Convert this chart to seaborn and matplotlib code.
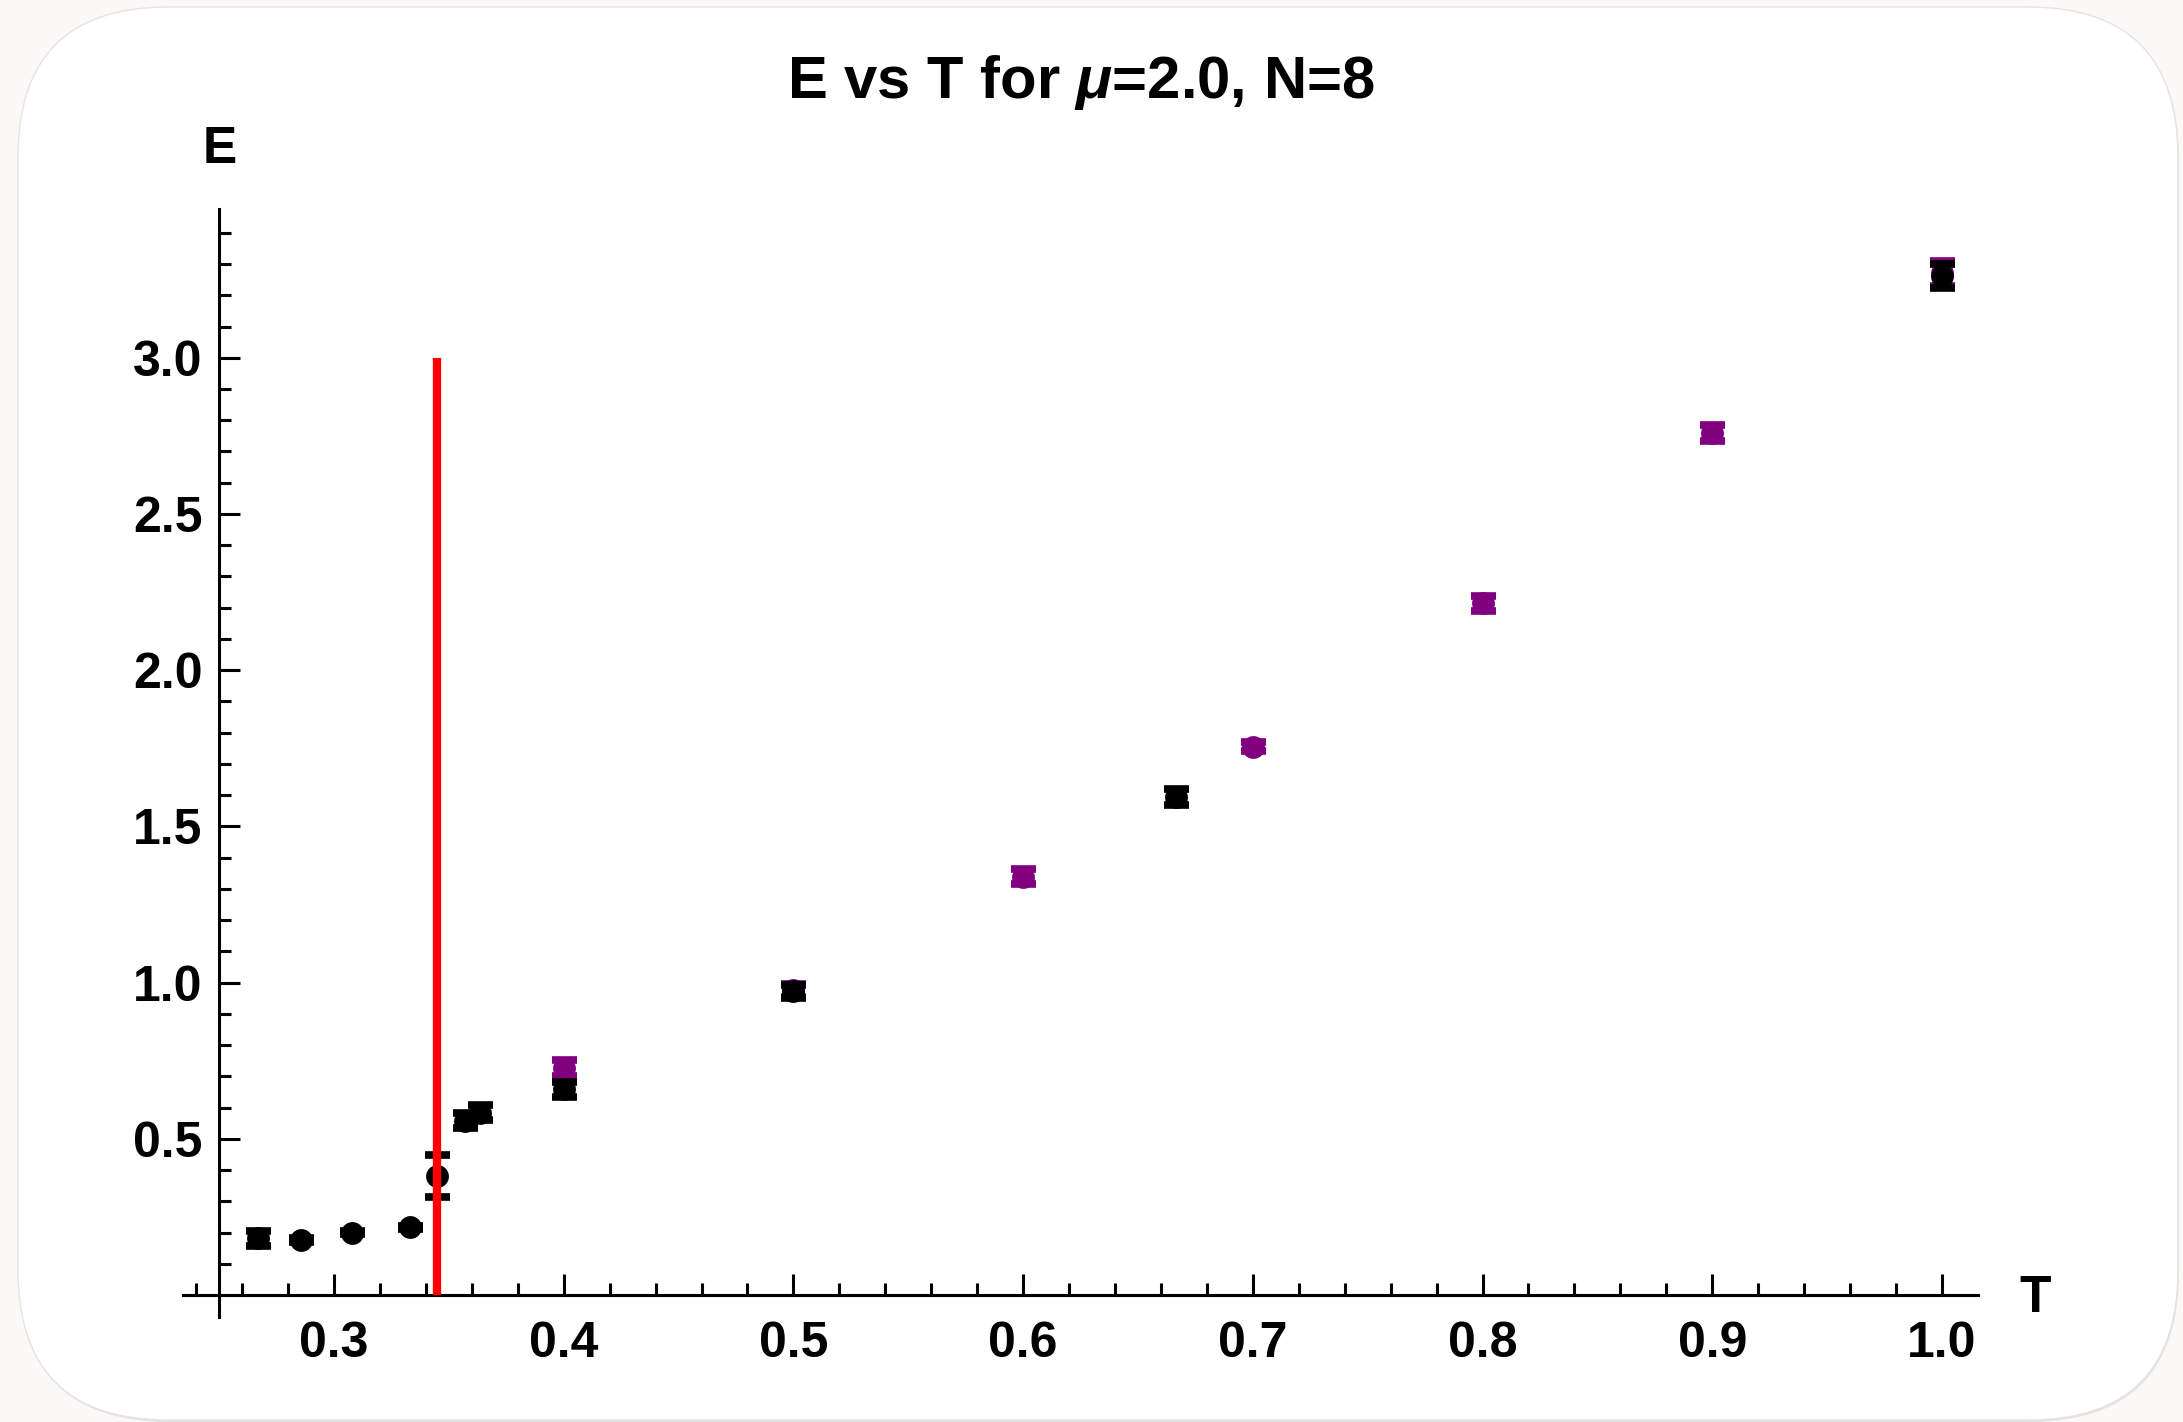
import matplotlib
matplotlib.use("Agg")
import matplotlib.pyplot as plt
from matplotlib.patches import FancyBboxPatch
from matplotlib.ticker import FixedLocator
import numpy as np
import pandas as pd
import seaborn as sns

# black series (first run)
black_T = [0.2667, 0.2857, 0.3077, 0.3333, 0.3448, 0.3571, 0.3636, 0.4, 0.5, 0.6667, 1.0]
black_E = [0.181, 0.176, 0.199, 0.217, 0.381, 0.558, 0.583, 0.658, 0.972, 1.593, 3.262]
black_err = [0.024, 0.005, 0.005, 0.005, 0.067, 0.024, 0.024, 0.023, 0.02, 0.026, 0.039]

# purple series (second run)
purple_T = [0.4, 0.5, 0.6, 0.7, 0.8, 0.9, 1.0]
purple_E = [0.726, 0.975, 1.339, 1.755, 2.214, 2.760, 3.27]
purple_err = [0.025, 0.02, 0.024, 0.015, 0.024, 0.025, 0.04]

# red marker line
transition_T = 0.3448
transition_E = [0.0, 3.0]

x_ticks = [0.3, 0.4, 0.5, 0.6, 0.7, 0.8, 0.9, 1.0]
x_labels = ["0.3", "0.4", "0.5", "0.6", "0.7", "0.8", "0.9", "1.0"]
y_ticks = [0.5, 1.0, 1.5, 2.0, 2.5, 3.0]
y_labels = ["0.5", "1.0", "1.5", "2.0", "2.5", "3.0"]

black_df = pd.DataFrame({"T": black_T, "E": black_E, "err": black_err})
purple_df = pd.DataFrame({"T": purple_T, "E": purple_E, "err": purple_err})

sns.set_theme(style="white")
plt.rcParams["font.family"] = ["Liberation Sans Narrow", "Liberation Sans", "DejaVu Sans"]
plt.rcParams["font.weight"] = "bold"
plt.rcParams["text.color"] = "black"
plt.rcParams["mathtext.fontset"] = "custom"
plt.rcParams["mathtext.it"] = "Liberation Sans:italic:bold"
plt.rcParams["mathtext.rm"] = "Liberation Sans:bold"

fig = plt.figure(figsize=(21.83, 14.22), dpi=100, facecolor="#fbf9f5")

# rounded white card with a soft shadow
shadow = FancyBboxPatch((0.19, 0.0), 21.6, 14.13, boxstyle="round,pad=0,rounding_size=1.5",
                        transform=fig.dpi_scale_trans, facecolor="#cfcfcf", edgecolor="none",
                        alpha=0.5, zorder=-2)
card = FancyBboxPatch((0.18, 0.02), 21.6, 14.13, boxstyle="round,pad=0,rounding_size=1.5",
                      transform=fig.dpi_scale_trans, facecolor="white", edgecolor="#e4e4e4",
                      linewidth=1, zorder=-1)
fig.add_artist(shadow)
fig.add_artist(card)

ax = fig.add_axes([0.08397, 0.0739, 0.8219, 0.7791])
ax.set_facecolor("none")

purple = "#800080"
ax.errorbar(purple_df["T"], purple_df["E"], yerr=purple_df["err"], fmt="none", ecolor=purple,
            elinewidth=2, capsize=9, capthick=5.5, zorder=2)
sns.scatterplot(data=purple_df, x="T", y="E", color=purple, s=270, linewidth=0, ax=ax, zorder=3)

ax.errorbar(black_df["T"], black_df["E"], yerr=black_df["err"], fmt="none", ecolor="black",
            elinewidth=2, capsize=9, capthick=5.5, zorder=4)
sns.scatterplot(data=black_df, x="T", y="E", color="black", s=270, linewidth=0, ax=ax, zorder=5)

ax.vlines(transition_T, transition_E[0], transition_E[1], color="red", linewidth=6, zorder=6)

# Mathematica-like axes crossing at (0.25, 0)
ax.spines["top"].set_visible(False)
ax.spines["right"].set_visible(False)
ax.spines["left"].set_position(("data", 0.25))
ax.spines["bottom"].set_position(("data", 0.0))
for s in ("left", "bottom"):
    ax.spines[s].set_linewidth(2.2)
    ax.spines[s].set_color("black")

ax.set_xlim(0.2344, 1.0155)
ax.set_ylim(-0.07, 3.476)
ax.set_xticks(x_ticks)
ax.set_xticklabels(x_labels)
ax.set_yticks(y_ticks)
ax.set_yticklabels(y_labels)
ax.xaxis.set_minor_locator(FixedLocator(np.arange(0.24, 1.001, 0.02)))
ax.yaxis.set_minor_locator(FixedLocator(np.arange(0.1, 3.45, 0.1)))
ax.tick_params(which="both", bottom=True, left=True, top=False, right=False)
ax.tick_params(which="major", direction="in", length=15, width=2.2, color="black",
               labelsize=36, labelcolor="black")
ax.tick_params(which="minor", direction="in", length=8.6, width=2.2, color="black")
ax.tick_params(axis="x", which="major", pad=19)
ax.tick_params(axis="y", which="major", pad=12)
ax.set_xlabel("")
ax.set_ylabel("")
ax.grid(False)

fig.text(0.4952, 0.9311, r"E vs T for $\mu$=2.0, N=8", ha="center", va="baseline",
         fontsize=43, fontweight="bold", color="black")
fig.text(0.1008, 0.8854, "E", ha="center", va="baseline", fontsize=37, fontweight="bold",
         color="black")
fig.text(0.9322, 0.0774, "T", ha="center", va="baseline", fontsize=37, fontweight="bold",
         color="black")

fig.savefig("out.png", dpi=100, facecolor=fig.get_facecolor())
